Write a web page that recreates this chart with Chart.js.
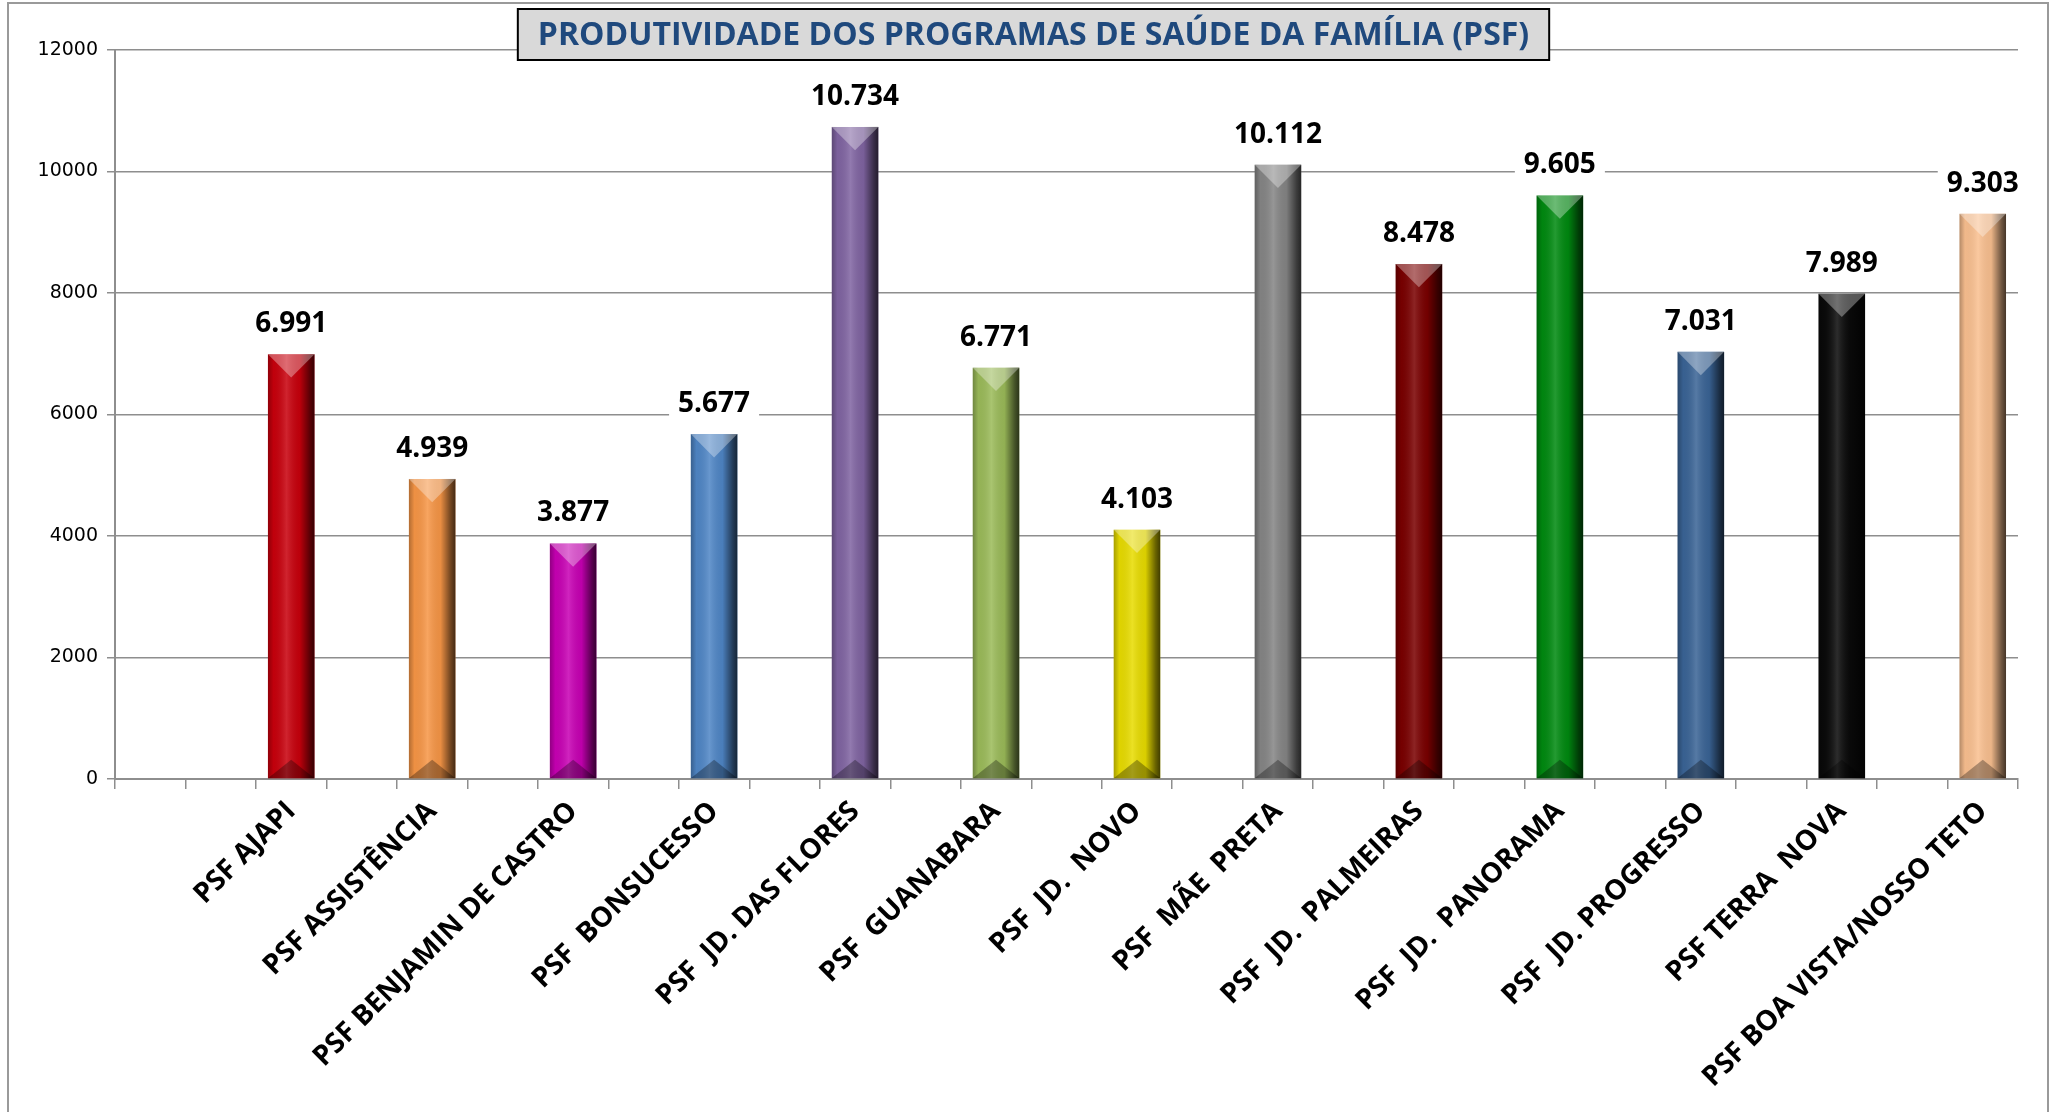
<!DOCTYPE html>
<html>
<head>
<meta charset="utf-8">
<script src="https://cdn.jsdelivr.net/npm/chart.js@4.4.1/dist/chart.umd.min.js"></script>
<style>
  body { margin: 0; background: #fff; }
  canvas { display: block; }
</style>
</head>
<body>
<canvas id="myChart" width="2055" height="1112"></canvas>
<script>
const chartTitle = 'PRODUTIVIDADE DOS PROGRAMAS DE SAÚDE DA FAMÍLIA (PSF)';
const categories = [
  'PSF AJAPI',
  'PSF ASSISTÊNCIA',
  'PSF BENJAMIN DE CASTRO',
  'PSF  BONSUCESSO',
  'PSF  JD. DAS FLORES',
  'PSF  GUANABARA',
  'PSF  JD.  NOVO',
  'PSF  MÃE  PRETA',
  'PSF  JD.  PALMEIRAS',
  'PSF  JD.  PANORAMA',
  'PSF  JD. PROGRESSO',
  'PSF TERRA  NOVA',
  'PSF BOA VISTA/NOSSO TETO'
];
const values = [6991, 4939, 3877, 5677, 10734, 6771, 4103, 10112, 8478, 9605, 7031, 7989, 9303];
const barColors = [
  '#C8000C', '#F79646', '#C800B4', '#4F86C6', '#8064A2', '#9BBB59', '#E8DC00',
  '#858585', '#7A0000', '#008A10', '#3A6496', '#0A0A0A', '#FAC090'
];
const yMin = 0;
const yMax = 12000;
const yStep = 2000;

// a planilha original tem colunas vazias: duas no início e uma entre cada PSF
const slotLabels = ['', ''];
const slotValues = [null, null];
const slotColors = ['rgba(0,0,0,0)', 'rgba(0,0,0,0)'];
categories.forEach((name, i) => {
  slotLabels.push(name);
  slotValues.push(values[i]);
  slotColors.push(barColors[i]);
  if (i < categories.length - 1) {
    slotLabels.push('');
    slotValues.push(null);
    slotColors.push('rgba(0,0,0,0)');
  }
});

const fmt = (v) => v.toString().replace(/\B(?=(\d{3})+(?!\d))/g, '.'); // 10734 -> 10.734
const gridColor = '#8e8e8e';

// moldura externa do gráfico
const frame = {
  id: 'frame',
  beforeDraw(chart) {
    const c = chart.ctx;
    c.save();
    c.fillStyle = '#fff';
    c.fillRect(0, 0, chart.width, chart.height);
    c.strokeStyle = '#9a9a9a';
    c.lineWidth = 2;
    c.strokeRect(8, 3, chart.width - 15, chart.height + 20);
    c.restore();
  }
};

// efeito 3D (chanfro) nas barras
const bevel = {
  id: 'bevel',
  afterDatasetsDraw(chart) {
    const c = chart.ctx;
    const meta = chart.getDatasetMeta(0);
    meta.data.forEach((bar, i) => {
      if (slotValues[i] == null) return;
      const { x, y, base, width } = bar.getProps(['x', 'y', 'base', 'width'], true);
      const left = x - width / 2;
      const right = x + width / 2;
      c.save();
      const g = c.createLinearGradient(left, 0, right, 0);
      g.addColorStop(0, 'rgba(0,0,0,0.28)');
      g.addColorStop(0.12, 'rgba(0,0,0,0.04)');
      g.addColorStop(0.4, 'rgba(255,255,255,0.14)');
      g.addColorStop(0.68, 'rgba(0,0,0,0.06)');
      g.addColorStop(0.9, 'rgba(0,0,0,0.55)');
      g.addColorStop(1, 'rgba(0,0,0,0.72)');
      c.fillStyle = g;
      c.fillRect(left, y, width, base - y);
      // topo
      c.beginPath();
      c.moveTo(left, y);
      c.lineTo(right, y);
      c.lineTo(x, y + width * 0.5);
      c.closePath();
      c.fillStyle = 'rgba(255,255,255,0.33)';
      c.fill();
      // base
      c.beginPath();
      c.moveTo(left, base);
      c.lineTo(right, base);
      c.lineTo(x, base - width * 0.4);
      c.closePath();
      c.fillStyle = 'rgba(0,0,0,0.3)';
      c.fill();
      c.restore();
    });
  }
};

// rótulos de valor acima das barras (com fundo branco)
const valueLabels = {
  id: 'valueLabels',
  afterDatasetsDraw(chart) {
    const c = chart.ctx;
    const meta = chart.getDatasetMeta(0);
    c.save();
    c.font = 'bold 28px "Open Sans"';
    c.textAlign = 'center';
    c.textBaseline = 'alphabetic';
    meta.data.forEach((bar, i) => {
      if (slotValues[i] == null) return;
      const txt = fmt(slotValues[i]);
      const w = c.measureText(txt).width;
      const by = bar.y - 22;
      c.fillStyle = '#fff';
      c.fillRect(bar.x - w / 2 - 9, by - 26, w + 18, 34);
      c.fillStyle = '#000';
      c.fillText(txt, bar.x, by);
    });
    c.restore();
  }
};

// caixa do título sobreposta à área do gráfico
const titleBox = {
  id: 'titleBox',
  afterDraw(chart) {
    const c = chart.ctx;
    c.save();
    c.font = 'bold 32px "Open Sans"';
    const w = c.measureText(chartTitle).width + 40;
    const cx = chart.width / 2 + 6;
    c.fillStyle = '#D9D9D9';
    c.fillRect(cx - w / 2, 9, w, 51);
    c.strokeStyle = '#000';
    c.lineWidth = 2;
    c.strokeRect(cx - w / 2, 9, w, 51);
    c.fillStyle = '#1F497D';
    c.textAlign = 'center';
    c.textBaseline = 'middle';
    c.fillText(chartTitle, cx, 36);
    c.restore();
  }
};

const ctx = document.getElementById('myChart').getContext('2d');
const myChart = new Chart(ctx, {
  type: 'bar',
  data: {
    labels: slotLabels,
    datasets: [{
      data: slotValues,
      backgroundColor: slotColors,
      borderWidth: 0,
      categoryPercentage: 1,
      barPercentage: 0.66
    }]
  },
  options: {
    responsive: false,
    animation: false,
    layout: { padding: { top: 50, right: 37, left: 0, bottom: 0 } },
    plugins: {
      legend: { display: false },
      tooltip: { enabled: false },
      title: { display: false }
    },
    scales: {
      x: {
        grid: { drawOnChartArea: false, drawTicks: true, tickLength: 10, color: gridColor, lineWidth: 1.5, offset: true },
        border: { color: gridColor, width: 2 },
        ticks: {
          autoSkip: false,
          maxRotation: 45,
          minRotation: 45,
          padding: 6,
          color: '#000',
          font: { family: 'Open Sans', weight: 'bold', size: 28 }
        },
        afterFit: (scale) => { scale.height = 333; }
      },
      y: {
        min: yMin,
        max: yMax,
        ticks: {
          stepSize: yStep,
          padding: 9,
          color: '#000',
          font: { family: 'DejaVu Sans', size: 19 },
          callback: (v) => String(v)
        },
        grid: { color: gridColor, lineWidth: 1.5, tickLength: 8 },
        border: { color: gridColor, width: 2 },
        afterFit: (scale) => { scale.width = 115; }
      }
    }
  },
  plugins: [frame, bevel, valueLabels, titleBox]
});
</script>
</body>
</html>
